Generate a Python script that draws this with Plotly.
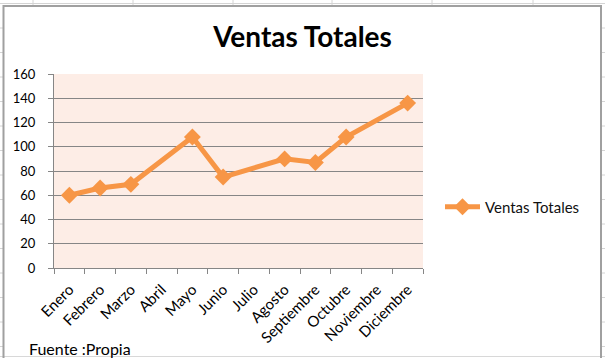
import plotly.graph_objects as go

meses = ["Enero", "Febrero", "Marzo", "Abril", "Mayo", "Junio", "Julio",
         "Agosto", "Septiembre", "Octubre", "Noviembre", "Diciembre"]
ventas = [60, 66, 69, None, 108, 75, None, 90, 87, 108, None, 136]
y_ticks = [0, 20, 40, 60, 80, 100, 120, 140, 160]

W, H = 605, 358
L, R, T, B = 54, 182, 74, 90
PW, PH = W - L - R, H - T - B

def px(x):
    return (x - L) / PW

def py(y):
    return (H - B - y) / PH

ORANGE = "#F79646"
FONT = "Lato"

fig = go.Figure()
fig.add_trace(go.Scatter(
    x=meses, y=ventas, mode="lines+markers", name="Ventas Totales",
    connectgaps=True,
    line=dict(color=ORANGE, width=5),
    marker=dict(symbol="diamond", size=13, color=ORANGE),
))

shapes = []
# Excel sheet gridlines around the chart
for gx in [33, 133, 233, 332, 432, 533]:
    shapes.append(dict(type="line", xref="paper", yref="paper",
                       x0=px(gx), x1=px(gx), y0=py(0), y1=py(6),
                       line=dict(color="#D4D4D4", width=1), layer="below"))
shapes.append(dict(type="line", xref="paper", yref="paper",
                   x0=px(0), x1=px(605), y0=py(3.5), y1=py(3.5),
                   line=dict(color="#D4D4D4", width=1), layer="below"))
for gy in [28, 52.5, 77, 101.5, 126, 150.5, 175, 199.5, 224, 248.5, 273, 297.5, 322, 346.5]:
    for (a, b) in [(0, 3), (602, 605)]:
        shapes.append(dict(type="line", xref="paper", yref="paper",
                           x0=px(a), x1=px(b), y0=py(gy), y1=py(gy),
                           line=dict(color="#D4D4D4", width=1), layer="below"))
shapes.append(dict(type="line", xref="paper", yref="paper",
                   x0=px(0), x1=px(605), y0=py(356.5), y1=py(356.5),
                   line=dict(color="#D8D8D8", width=1), layer="below"))
# Chart border
shapes.append(dict(type="rect", xref="paper", yref="paper",
                   x0=px(3.5), x1=px(601), y0=py(6), y1=py(370),
                   line=dict(color="#A0A0A0", width=2), layer="below"))

fig.update_layout(
    width=W, height=H,
    margin=dict(l=L, r=R, t=T, b=B),
    paper_bgcolor="white",
    plot_bgcolor="#FDEDE6",
    font=dict(family=FONT, size=13, color="#000000"),
    title=dict(text="<b>Ventas Totales</b>", x=0.5, xref="container",
               y=1 - 37 / H, yref="container", yanchor="middle",
               xanchor="center",
               font=dict(family=FONT, size=28, color="#000000")),
    showlegend=True,
    legend=dict(x=px(440), y=py(207), xanchor="left", yanchor="middle",
                xref="paper", yref="paper", bgcolor="rgba(0,0,0,0)",
                font=dict(family=FONT, size=15, color="#111111"),
                itemwidth=35),
    xaxis=dict(
        type="category", categoryorder="array", categoryarray=meses,
        tickson="boundaries", ticks="outside", ticklen=5,
        tickcolor="#868686", showline=True, linecolor="#868686",
        linewidth=1, showgrid=False, tickangle=-45,
        ticklabelstandoff=6,
        tickfont=dict(family=FONT, size=15, color="#000000"),
        range=[-0.5, 11.5], mirror=False,
    ),
    yaxis=dict(
        range=[0, 160], tickvals=y_ticks, ticks="outside", ticklen=5,
        tickcolor="#868686", showline=True, linecolor="#868686",
        linewidth=1, showgrid=True, gridcolor="#868686", gridwidth=1,
        zeroline=False, ticklabelstandoff=10,
        tickfont=dict(family=FONT, size=13, color="#000000"),
    ),
    shapes=shapes,
    annotations=[dict(text="Fuente :Propia", xref="paper", yref="paper",
                      x=px(27), y=py(348), xanchor="left", yanchor="middle",
                      showarrow=False,
                      font=dict(family=FONT, size=16, color="#000000"))],
)

fig.write_html("out.html",
               config={"displayModeBar": False},
               post_script="document.body.style.margin='0';document.body.style.overflow='hidden';")
